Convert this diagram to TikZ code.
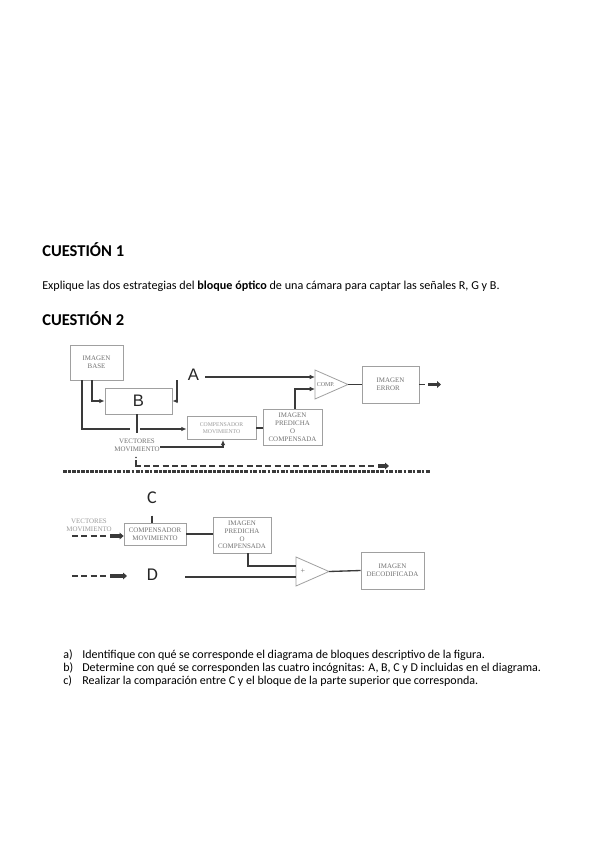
\documentclass[tikz,border=0pt]{standalone}
\usepackage{fontspec}
\setmainfont{Carlito}
\newfontfamily\diagserif{Liberation Serif}
\newfontfamily\diagsans{Liberation Sans}
\usetikzlibrary{arrows.meta}
\definecolor{boxline}{HTML}{A0A0A0}
\definecolor{boxtext}{HTML}{707070}
\definecolor{lighttext}{HTML}{9A9A9A}
\definecolor{conn}{HTML}{3A3A3A}
\begin{document}
\begin{tikzpicture}[x=0.75pt,y=-0.75pt,
  box/.style 2 args={draw=boxline, line width=0.6pt, inner sep=0pt, align=center,
     text=boxtext, minimum width=#1*0.75pt, minimum height=#2*0.75pt,
     font=\diagserif\fontsize{5.2}{6}\selectfont},
  smallbox/.style 2 args={box={#1}{#2}, text=lighttext, font=\diagserif\fontsize{4.3}{5.6}\selectfont},
  letter/.style={inner sep=0pt, font=\diagsans\fontsize{12.5}{14}\selectfont, text=black!85},
  letterc/.style={inner sep=0pt, font=\fontsize{13.5}{15}\selectfont, text=black!85},
  lbl/.style={inner sep=0pt, align=center, text=boxtext, font=\diagserif\fontsize{5.2}{6}\selectfont},
  wire/.style={draw=conn, line width=1pt},
  arr/.style={wire, -{Latex[length=4pt,width=3.5pt]}},
  dashwire/.style={draw=conn, line width=1pt, dash pattern=on 4.5pt off 2.5pt},
  fat/.style={draw=conn, line width=2.4pt, -{Triangle[length=3pt,width=5pt]}},
  tri/.style={draw=boxline, line width=0.6pt, fill=white},
  heading/.style={inner sep=0pt, anchor=base west, font=\bfseries\fontsize{12.4}{14}\selectfont},
  body/.style={inner sep=0pt, anchor=base west, font=\fontsize{9.1}{10}\selectfont},
  item/.style={inner sep=0pt, anchor=base west, font=\fontsize{9}{11}\selectfont}
]
\useasboundingbox[fill=white] (0,0) rectangle (599,848);

% ---------- texts ----------
\node[heading] (q1) at (42,257) {CUESTIÓN 1};
\node[body] (t1) at (42,289) {Explique las dos estrategias del \textbf{bloque óptico} de una cámara para captar las señales R, G y B.};
\node[heading] (q2) at (42,325) {CUESTIÓN 2};

\node[item] (ia) at (63,658) {a)};
\node[item] (ta) at (82,658) {\makebox[302pt][s]{Identifique con qué se corresponde el diagrama de bloques descriptivo de la figura.}};
\node[item] (ib) at (63,671) {b)};
\node[item] (tb) at (82,671) {Determine con qué se corresponden las cuatro incógnitas: A, B, C y D incluidas en el diagrama.};
\node[item] (ic) at (63,684) {c)};
\node[item] (tc) at (82,684) {Realizar la comparación entre C y el bloque de la parte superior que corresponda.};

% ---------- upper diagram ----------
\node[box={53}{35}] (base) at (96.5,362.5) {IMAGEN\\BASE};
\node[box={67}{26}, font=\diagsans\fontsize{12.5}{14}\selectfont, text=black!85] (B) at (138.5,401) {B};
\node[smallbox={69}{23}] (comp1) at (221.5,428) {COMPENSADOR\\MOVIMIENTO};
\node[box={59}{36}] (pred1) at (292.5,427) {IMAGEN\\PREDICHA\\O\\COMPENSADA};
\node[box={57}{37}, align=left] (err) at (390.5,384.5) {IMAGEN\\ERROR};
\node[letter] (A) at (193.5,375) {A};
\node[lbl] (vect1) at (137,445) {VECTORES\\MOVIMIENTO};

% comparator triangle
\draw[tri] (315,370) -- (348,384.5) -- (315,399) -- cycle;
\coordinate (t1a) at (315,377);
\coordinate (t1b) at (315,389);
\coordinate (t1o) at (348,384.5);
\node[inner sep=0pt, text=boxtext, font=\diagserif\fontsize{4.5}{5}\selectfont, anchor=west] (comptxt) at (316.5,384.5) {COMP.};

% connectors
\coordinate (bx1) at (82,380);
\coordinate (bx2) at (92,380);
\coordinate (gapL) at (130,429);
\coordinate (gapR) at (140,429);
\draw[wire] (bx1) -- (82,429) -- (gapL);
\draw[arr] (gapR) -- (comp1.west |- gapR);
\draw[arr] (bx2) |- (B.west);
\coordinate (rstub) at (177,380);
\draw[arr] (rstub) |- (B.east);
\coordinate (Bdown) at (137,433);
\draw[wire] (B.south -| Bdown) -- (Bdown);
\coordinate (vr) at (160,447);
\draw[arr] (vr) -| (comp1.south -| 223,0);
\draw[wire] (comp1.east) -- (comp1.east -| pred1.west);
\coordinate (p1top) at (295,409);
\draw[arr] (p1top) |- (t1b);
\coordinate (Aend) at (205,377);
\draw[arr] (Aend) -- (t1a);
\draw[wire] (t1o) -- (err.west);
\coordinate (errout) at (441,384.5);
\draw[dashwire] (err.east) -- ++(6,0) coordinate (errd);
\draw[fat] (428,384.5) -- (errout);

% dashed line from vectores
\fill[conn] (136,457.5) circle (0.9);
\coordinate (vd) at (136,460);
\coordinate (vend) at (389,466);
\draw[wire] (vd) -- (136,466) -- (141,466);
\draw[dashwire] (144,466) -- (376,466);
\draw[fat] (378,466) -- (vend);

% separator
\coordinate (sepL) at (63,471.5);
\coordinate (sepR) at (430,471.5);
\draw[draw=conn, line width=2pt, dash pattern=on 3pt off 0.9pt on 2pt off 0.9pt] (sepL) -- (sepR);

% ---------- lower diagram ----------
\node[letterc] (C) at (152,497.5) {C};
\node[box={62}{22}] (comp2) at (155,534) {COMPENSADOR\\MOVIMIENTO};
\node[box={58}{36}, font=\diagserif\fontsize{5.2}{5.8}\selectfont] (pred2) at (242,535) {IMAGEN\\PREDICHA\\O\\COMPENSADA};
\node[box={63}{37}] (dec) at (392.5,570.5) {IMAGEN\\DECODIFICADA};
\node[lbl, text=lighttext] (vect2) at (89,525) {VECTORES\\MOVIMIENTO};
\node[letterc] (D) at (152.5,575) {D};

\draw[wire] (C.south) ++(0,12) coordinate (cv) -- (cv |- comp2.north);

\coordinate (v2s) at (72,536);
\draw[dashwire] (v2s) -- (107,536);
\draw[fat] (110,536) -- (comp2.west |- v2s);
\draw[wire] (comp2.east) -- (comp2.east -| pred2.west);

\draw[tri] (296,557) -- (329,571.5) -- (296,586) -- cycle;
\coordinate (t2a) at (296,566);
\coordinate (t2b) at (296,577);
\coordinate (t2o) at (329,571.5);
\node[inner sep=0pt, text=boxtext, font=\diagserif\fontsize{6}{6}\selectfont] (plus) at (303,571) {+};

\draw[wire] (pred2.south -| 248,0) |- (t2a);
\coordinate (dL) at (72,576);
\draw[dashwire] (dL) -- (107,576);
\draw[fat] (110,576) -- (127,576);
\coordinate (dR) at (185,577);
\draw[wire] (dR) -- (t2b);
\draw[wire] (t2o) -- (dec.west);
\end{tikzpicture}
\end{document}
